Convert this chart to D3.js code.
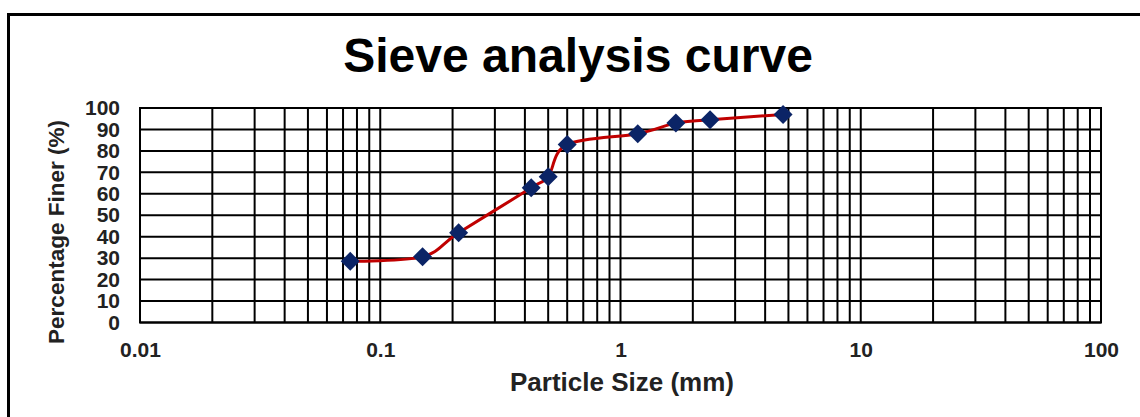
<!DOCTYPE html>
<html>
<head>
<meta charset="utf-8">
<script src="https://cdn.jsdelivr.net/npm/d3@7"></script>
<style>
  body { margin: 0; background: #fff; }
  svg { display: block; font-family: "Liberation Sans", Arial, sans-serif; font-weight: bold; }
</style>
</head>
<body>
<div id="chart"></div>
<script>
// sieve sizes (mm) and percent passing
const sieveSizes = [0.075, 0.15, 0.212, 0.425, 0.5, 0.6, 1.18, 1.7, 2.36, 4.75]
const percentFiner = [28.5, 30.7, 41.8, 62.8, 68, 83, 88, 93, 94.5, 97]
const xTickLabels = [0.01, 0.1, 1, 10, 100]
const yTickLabels = [0, 10, 20, 30, 40, 50, 60, 70, 80, 90, 100]

const width = 1140
const height = 417
const plotLeft = 140, plotRight = 1101, plotTop = 108, plotBottom = 322.5

const data = sieveSizes.map((s, i) => ({size: s, pct: percentFiner[i]}))

const svg = d3.select('#chart')
    .append('svg')
    .attr('width', width)
    .attr('height', height)

// outer frame (runs off the picture at right and bottom)
svg.append('rect')
    .attr('x', 8.5)
    .attr('y', 14.5)
    .attr('width', 1200)
    .attr('height', 500)
    .attr('fill', 'none')
    .attr('stroke', 'black')
    .attr('stroke-width', 3)

svg.append('text')
    .attr('x', 578)
    .attr('y', 72)
    .attr('text-anchor', 'middle')
    .style('font-size', '48px')
    .text('Sieve analysis curve')

let xScale = d3.scaleLog()
    .domain([0.01, 100])
    .range([plotLeft, plotRight])

let yScale = d3.scaleLinear()
    .domain([0, 100])
    .range([plotBottom, plotTop])

// grid
const grid = svg.append('g')
    .attr('stroke', 'black')
    .attr('stroke-width', 2)

grid.selectAll('.vline')
    .data(xScale.ticks())
    .join('line')
    .attr('class', 'vline')
    .attr('x1', d => xScale(d))
    .attr('x2', d => xScale(d))
    .attr('y1', plotTop)
    .attr('y2', plotBottom)

grid.selectAll('.hline')
    .data(yTickLabels)
    .join('line')
    .attr('class', 'hline')
    .attr('x1', plotLeft)
    .attr('x2', plotRight)
    .attr('y1', d => yScale(d))
    .attr('y2', d => yScale(d))

svg.append('rect')
    .attr('x', plotLeft)
    .attr('y', plotTop)
    .attr('width', plotRight - plotLeft)
    .attr('height', plotBottom - plotTop)
    .attr('fill', 'none')
    .attr('stroke', 'black')
    .attr('stroke-width', 2)

// axes labels
let xAxis = d3.axisBottom(xScale)
    .tickValues(xTickLabels)
    .tickFormat(d => String(d))
    .tickSize(0)
    .tickPadding(20)

let yAxis = d3.axisLeft(yScale)
    .tickValues(yTickLabels)
    .tickSize(0)
    .tickPadding(20)

const xAxisGroup = svg.append('g')
    .attr('transform', `translate(0,${plotBottom})`)
    .call(xAxis)
xAxisGroup.select('.domain').remove()
xAxisGroup.selectAll('text')
    .style('font-size', '21px')
    .style('font-family', '"Liberation Sans", Arial, sans-serif')
    .style('font-weight', 'bold')
    .attr('fill', '#222')

const yAxisGroup = svg.append('g')
    .attr('transform', `translate(${plotLeft},0)`)
    .call(yAxis)
yAxisGroup.select('.domain').remove()
yAxisGroup.selectAll('text')
    .style('font-size', '21px')
    .style('font-family', '"Liberation Sans", Arial, sans-serif')
    .style('font-weight', 'bold')
    .attr('fill', '#222')

svg.append('text')
    .attr('x', 622)
    .attr('y', 391)
    .attr('text-anchor', 'middle')
    .style('font-size', '26px')
    .attr('fill', '#222')
    .text('Particle Size (mm)')

svg.append('text')
    .attr('transform', 'translate(64,232) rotate(-90)')
    .attr('text-anchor', 'middle')
    .style('font-size', '22.5px')
    .attr('fill', '#222')
    .text('Percentage Finer (%)')

// smoothed curve
const line = d3.line()
    .x(d => xScale(d.size))
    .y(d => yScale(d.pct))
    .curve(d3.curveCardinal.tension(0))

svg.append('path')
    .datum(data)
    .attr('d', line)
    .attr('fill', 'none')
    .attr('stroke', '#c00000')
    .attr('stroke-width', 3)

svg.selectAll('.pt')
    .data(data)
    .join('path')
    .attr('class', 'pt')
    .attr('d', d3.symbol(d3.symbolDiamond2, 230))
    .attr('transform', d => `translate(${xScale(d.size)},${yScale(d.pct)})`)
    .attr('fill', '#0b2466')
</script>
</body>
</html>
